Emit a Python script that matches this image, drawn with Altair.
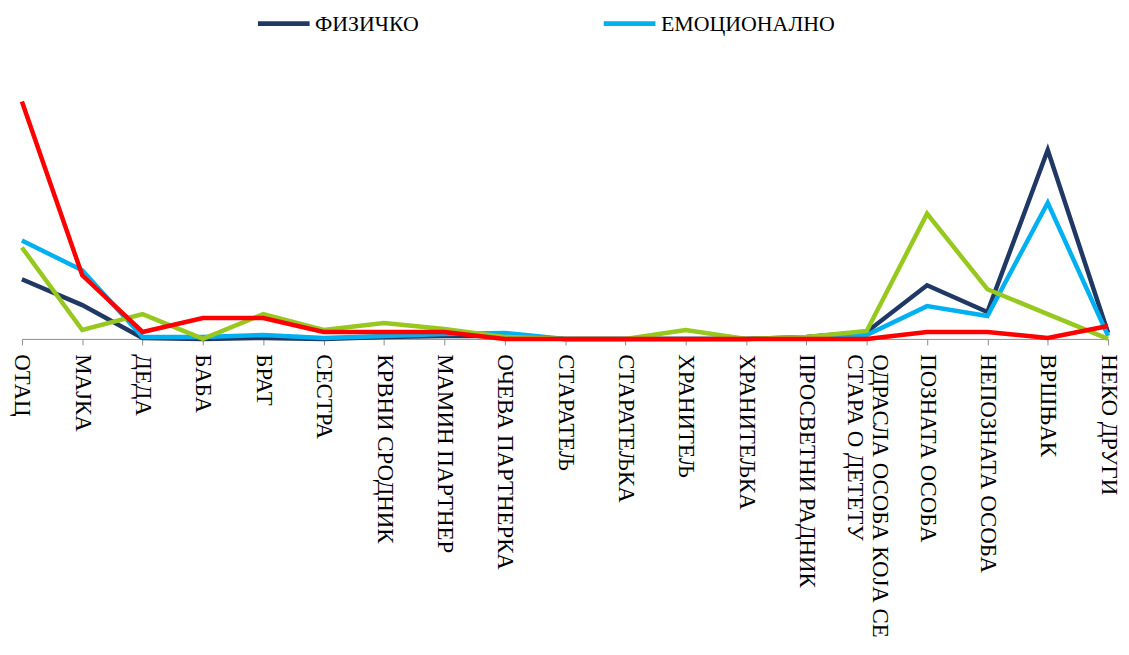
import altair as alt
import pandas as pd

categories = [
    "ОТАЦ", "МАЈКА", "ДЕДА", "БАБА", "БРАТ", "СЕСТРА", "КРВНИ СРОДНИК",
    "МАМИН  ПАРТНЕР", "ОЧЕВА ПАРТНЕРКА", "СТАРАТЕЉ", "СТАРАТЕЉКА", "ХРАНИТЕЉ",
    "ХРАНИТЕЉКА", "ПРОСВЕТНИ РАДНИК", "ОДРАСЛА ОСОБА КОЈА СЕ СТАРА О ДЕТЕТУ",
    "ПОЗНАТА ОСОБА", "НЕПОЗНАТА ОСОБА", "ВРШЊАК", "НЕКО ДРУГИ",
]

series_names = ["ФИЗИЧКО", "ЕМОЦИОНАЛНО", "СЕКСУАЛНО", "ЗАНЕМАРИВАЊЕ"]
series_colors = ["#1F3864", "#00B0F0", "#96C81E", "#FF0000"]

fizicko = [60, 34, 1, 0, 1, 0, 2, 3, 3, 0, 0, 0, 0, 2, 7, 54, 27, 190, 6]
emocionalno = [99, 69, 2, 2, 4, 1, 3, 5, 6, 0, 0, 0, 0, 1, 4, 33, 23, 137, 3]
seksualno = [92, 9, 25, 0, 25, 9, 16, 10, 2, 0, 0, 9, 0, 2, 8, 126, 50, 25, 0]
zanemarivanje = [239, 64, 7, 21, 21, 7, 7, 7, 0, 0, 0, 0, 0, 0, 0, 7, 7, 1, 13]

all_values = [fizicko, emocionalno, seksualno, zanemarivanje]

rows = []
for name, vals in zip(series_names, all_values):
    for cat, v in zip(categories, vals):
        rows.append({"category": cat, "series": name, "value": v})
df = pd.DataFrame(rows)

FONT = "Liberation Serif, Times New Roman, serif"

long_label = "ОДРАСЛА ОСОБА КОЈА СЕ СТАРА О ДЕТЕТУ"
pad = "\u00a0" * 10
label_expr = (
    f"datum.value == '{long_label}' ? ['ОДРАСЛА ОСОБА КОЈА СЕ', '{pad}СТАРА О ДЕТЕТУ'] : datum.label"
)

x_enc = alt.X(
    "category:N",
    sort=categories,
    scale=alt.Scale(type="point", padding=0),
    axis=alt.Axis(
        title=None,
        labelAngle=90,
        labelFont=FONT,
        labelFontSize=23,
        labelColor="black",
        labelLimit=1000,
        labelPadding=9,
        labelExpr=label_expr,
        labelOffset={
            "condition": {"test": f"datum.value == '{long_label}'", "value": 13},
            "value": 0,
        },
        domainColor="#8c8c8c",
        domainWidth=1,
        tickColor="#8c8c8c",
        tickSize=6,
        grid=False,
        labelOverlap=False,
    ),
)
y_enc = alt.Y(
    "value:Q",
    scale=alt.Scale(domain=[0, 250], nice=False, zero=True),
    axis=None,
)
color_enc = alt.Color(
    "series:N",
    scale=alt.Scale(domain=series_names, range=series_colors),
    legend=alt.Legend(
        title=None,
        orient="none",
        direction="horizontal",
        legendX=235,
        legendY=-96,
        values=["ФИЗИЧКО", "ЕМОЦИОНАЛНО"],
        symbolType="stroke",
        symbolSize=2704,
        symbolStrokeWidth=5,
        labelFont=FONT,
        labelFontSize=22,
        labelColor="black",
        labelOffset=3,
        columnPadding=175,
        padding=0,
        labelLimit=500,
    ),
)

layers = []
for name in series_names:
    layers.append(
        alt.Chart(df)
        .transform_filter(alt.datum.series == name)
        .mark_line(strokeWidth=4.5)
        .encode(x=x_enc, y=y_enc, color=color_enc)
    )

chart = (
    alt.layer(*layers)
    .properties(
        width=1093,
        height=250,
        autosize=alt.AutoSizeParams(type="none"),
        padding={"left": 14, "top": 81, "right": 13, "bottom": 300},
        background="white",
    )
    .configure_view(stroke=None)
)

chart.save("out.html", embed_options={"renderer": "svg", "actions": False})
